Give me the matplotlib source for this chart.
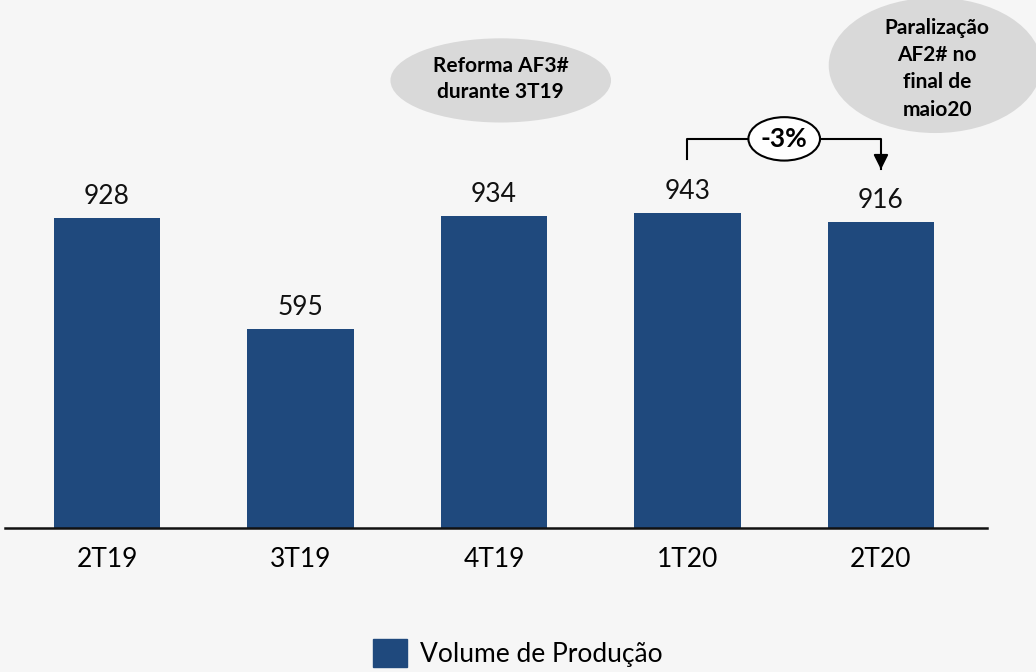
import matplotlib
matplotlib.use("Agg")
import matplotlib.pyplot as plt
from matplotlib.patches import Ellipse, Patch

# data
quarters = ["2T19", "3T19", "4T19", "1T20", "2T20"]
volume = [928, 595, 934, 943, 916]
change_label = "-3%"
note_left = "Reforma AF3#\ndurante 3T19"
note_right = "Paralização\nAF2# no\nfinal de\nmaio20"

bar_color = "#1f497d"
bg = "#f6f6f6"

plt.rcParams["font.family"] = ["Lato", "DejaVu Sans"]

fig = plt.figure(figsize=(10.36, 6.72), dpi=100, facecolor=bg)
ax = fig.add_axes([5 / 1036, 144 / 672, 982 / 1036, 488 / 672])
ax.patch.set_alpha(0)

x = range(len(quarters))
ax.bar(x, volume, width=0.55, color=bar_color, label="Volume de Produção")
ax.set_xlim(-0.527, 4.548)
ax.set_ylim(0, 1461)

for xi, v in zip(x, volume):
    ax.text(xi, v + 28, str(v), ha="center", va="bottom", fontsize=19, color="#111111")

ax.set_xticks(list(x))
ax.set_xticklabels(quarters, fontsize=19)
ax.tick_params(axis="x", length=0, pad=14)
ax.set_yticks([])
for s in ["top", "right", "left"]:
    ax.spines[s].set_visible(False)
ax.spines["bottom"].set_linewidth(1.8)
ax.spines["bottom"].set_color("#111111")

# bracket showing change 1T20 -> 2T20
y_br = 1165
ax.plot([3, 3, 4, 4], [1105, y_br, y_br, 1075], color="black", lw=1.5, clip_on=False)
ax.annotate("", xy=(4, 1065), xytext=(4, 1090),
            arrowprops=dict(arrowstyle="-|>", color="black", lw=1.5, mutation_scale=22))
ax.add_patch(Ellipse((3.5, y_br), 0.37, 130, facecolor="white", edgecolor="black", lw=1.5, zorder=3))
ax.text(3.5, y_br, change_label, ha="center", va="center", fontsize=19, fontweight="bold", zorder=4)

# grey notes
ax.add_patch(Ellipse((2.035, 1340), 1.14, 252, facecolor="#d9d9d9", edgecolor="none", clip_on=False))
ax.text(2.035, 1345, note_left, ha="center", va="center", fontsize=15, fontweight="bold",
        linespacing=1.4)
ax.add_patch(Ellipse((4.28, 1385), 1.10, 405, facecolor="#d9d9d9", edgecolor="none", clip_on=False))
ax.text(4.29, 1375, note_right, ha="center", va="center", fontsize=15, fontweight="bold",
        linespacing=1.45)

fig.legend(handles=[Patch(color=bar_color, label="Volume de Produção")], loc="center",
           bbox_to_anchor=(0.5, 1 - 653 / 672), frameon=False, fontsize=19,
           handlelength=1.3, handleheight=1.3, handletextpad=0.5)

fig.savefig("out.png", dpi=100, facecolor=bg)
